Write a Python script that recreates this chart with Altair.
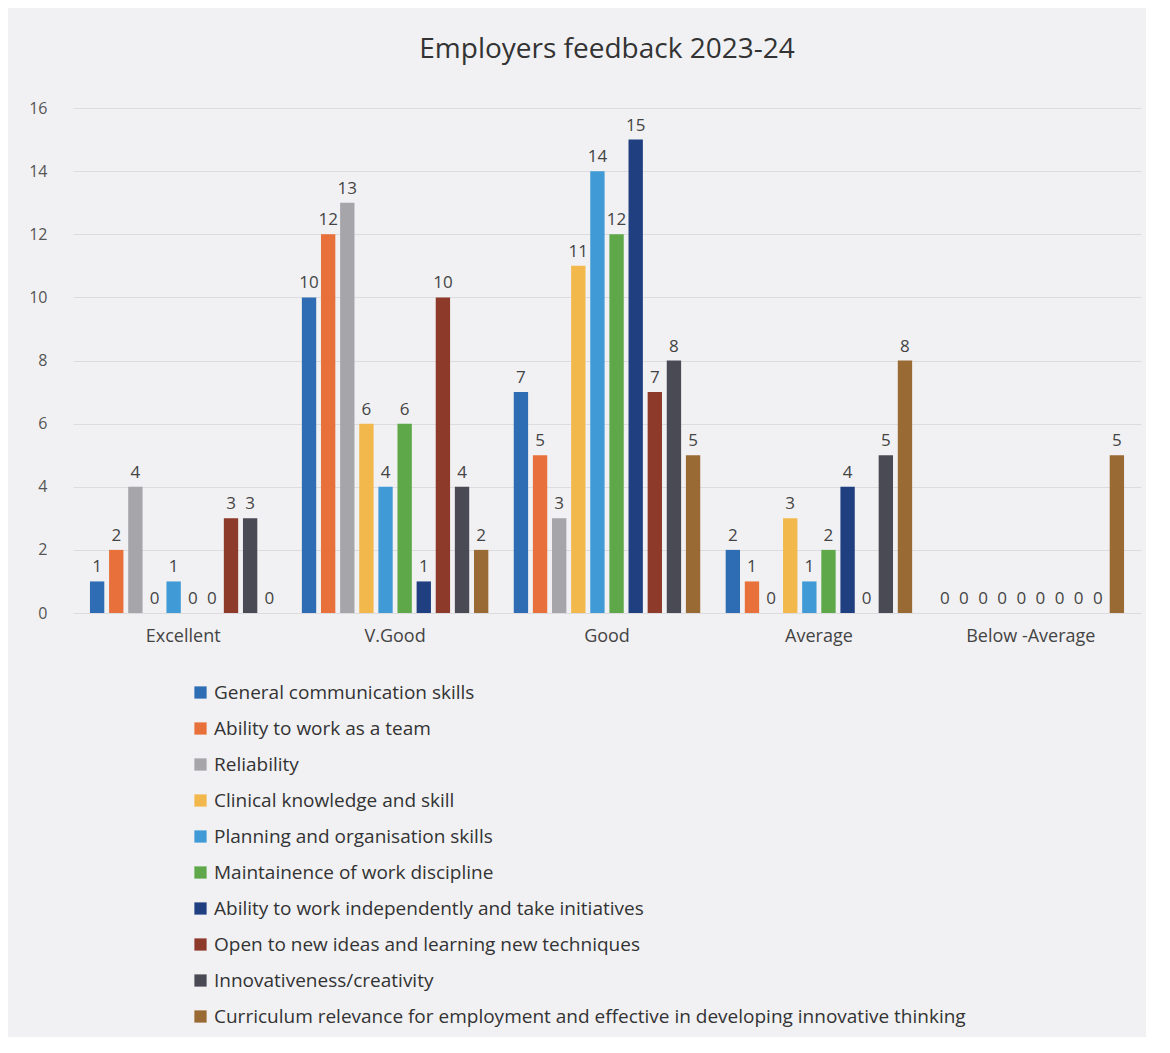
import altair as alt
import pandas as pd

categories = ["Excellent", "V.Good", "Good", "Average", "Below -Average"]
series = [
    "General communication skills",
    "Ability to work as a team",
    "Reliability",
    "Clinical knowledge and skill",
    "Planning and organisation skills",
    "Maintainence of work discipline",
    "Ability to work independently and take initiatives",
    "Open to new ideas and learning new techniques",
    "Innovativeness/creativity",
    "Curriculum relevance for employment and effective in developing innovative thinking",
]
values = {
    "General communication skills": [1, 10, 7, 2, 0],
    "Ability to work as a team": [2, 12, 5, 1, 0],
    "Reliability": [4, 13, 3, 0, 0],
    "Clinical knowledge and skill": [0, 6, 11, 3, 0],
    "Planning and organisation skills": [1, 4, 14, 1, 0],
    "Maintainence of work discipline": [0, 6, 12, 2, 0],
    "Ability to work independently and take initiatives": [0, 1, 15, 4, 0],
    "Open to new ideas and learning new techniques": [3, 10, 7, 0, 0],
    "Innovativeness/creativity": [3, 4, 8, 5, 0],
    "Curriculum relevance for employment and effective in developing innovative thinking": [0, 2, 5, 8, 5],
}
colors = ["#2E6DB4", "#E8703A", "#A5A5AA", "#F2B84B", "#3F9AD6",
          "#5EA84A", "#1F3F80", "#8E3A2A", "#4A4A55", "#9A6A35"]

rows = []
for s in series:
    for c, v in zip(categories, values[s]):
        rows.append({"category": c, "series": s, "value": v})
df = pd.DataFrame(rows)

x = alt.X("category:N", sort=categories, title=None,
          scale=alt.Scale(paddingInner=0.12, paddingOuter=0.08),
          axis=alt.Axis(labelAngle=0, labelFontSize=18, labelColor="#444",
                        labelFont="Open Sans", ticks=False, domain=False, labelPadding=14))
xo = alt.XOffset("series:N", sort=series, scale=alt.Scale(paddingInner=0.25))
y = alt.Y("value:Q", title=None,
          scale=alt.Scale(domain=[0, 16]),
          axis=alt.Axis(values=list(range(0, 17, 2)), labelFontSize=16, labelColor="#555",
                        labelFont="Open Sans", ticks=False, domain=False,
                        gridColor="#dcdcdf", labelPadding=26))
color = alt.Color("series:N", sort=series,
                  scale=alt.Scale(domain=series, range=colors),
                  legend=alt.Legend(title=None, orient="none", legendX=118, legendY=575,
                                    direction="vertical", columns=1,
                                    labelFontSize=19, labelFont="Open Sans", labelColor="#333",
                                    symbolType="square", symbolSize=150, symbolStrokeWidth=0,
                                    rowPadding=16, labelLimit=1000))

bars = alt.Chart(df).mark_bar().encode(
    x=x, xOffset=xo, y=y, color=color
)
labels = alt.Chart(df).mark_text(dy=-14, fontSize=17, font="Open Sans", color="#444").encode(
    x=x, xOffset=xo, y=y, text="value:Q"
)

chart = (bars + labels).properties(
    width=1068, height=505,
    title=alt.TitleParams("Employers feedback 2023-24", fontSize=28, font="Open Sans",
                          fontWeight="normal", color="#333", offset=36),
    background="#f1f1f3",
    padding={"left": 20, "top": 28, "right": 5, "bottom": 10},
).configure_view(stroke=None)

chart.save("out.html", embed_options={"renderer": "svg", "actions": False})
